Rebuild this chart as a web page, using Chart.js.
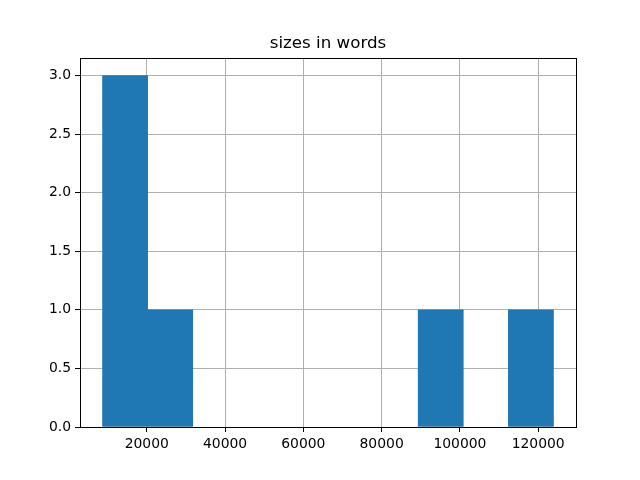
<!DOCTYPE html>
<html>
<head>
<meta charset="utf-8">
<title>sizes in words</title>
<script src="https://cdn.jsdelivr.net/npm/chart.js@4/dist/chart.umd.min.js"></script>
<style>
    body { margin: 0; background: #fff; }
    canvas { display: block; }
</style>
</head>
<body>
<canvas id="grafico-hist" width="640" height="480"></canvas>
<script>
// Histogram data (10 bins)
const binEdges = [8700, 20220, 31740, 43260, 54780, 66300, 77820, 89340, 100860, 112380, 123900];
const counts = [3, 1, 0, 0, 0, 0, 0, 1, 0, 1];
const xTicks = [20000, 40000, 60000, 80000, 100000, 120000];
const yTicks = [0, 0.5, 1.0, 1.5, 2.0, 2.5, 3.0];

// Axis limits (matplotlib style 5% margin)
const span = binEdges[binEdges.length - 1] - binEdges[0];
const xMin = binEdges[0] - span * 0.05;
const xMax = binEdges[binEdges.length - 1] + span * 0.05;
const yMax = Math.max(...counts) * 1.05;

// Empty bins get null so nothing is drawn on the baseline
const pontos = counts.map((c, i) => ({ x: (binEdges[i] + binEdges[i + 1]) / 2, y: c > 0 ? c : null }));

const fonteTicks = { family: 'DejaVu Sans', size: 13.9 };

// Frame around the plot area (all four spines)
const molduraPlugin = {
    id: 'moldura',
    afterDraw(chart) {
        const { ctx, chartArea: a } = chart;
        ctx.save();
        ctx.strokeStyle = '#000';
        ctx.lineWidth = 1;
        ctx.strokeRect(Math.round(a.left) + 0.5, Math.round(a.top) + 0.5,
            Math.round(a.right - a.left), Math.round(a.bottom - a.top));
        ctx.restore();
    }
};

new Chart(document.getElementById('grafico-hist').getContext('2d'), {
    type: 'bar',
    data: {
        datasets: [{
            data: pontos,
            backgroundColor: '#1f77b4',
            borderWidth: 0,
            barPercentage: 1,
            categoryPercentage: 1
        }]
    },
    options: {
        responsive: false,
        animation: false,
        devicePixelRatio: 1,
        layout: { padding: { left: 0, right: 64, top: 0, bottom: 0 } },
        plugins: {
            legend: { display: false },
            tooltip: { enabled: false },
            title: {
                display: true,
                text: 'sizes in words',
                fullSize: false,
                color: '#000',
                font: { family: 'DejaVu Sans', size: 16.7, weight: 'normal' },
                padding: { top: 34, bottom: 4 }
            }
        },
        scales: {
            x: {
                type: 'linear',
                min: xMin,
                max: xMax,
                offset: false,
                z: 1,
                afterBuildTicks: scale => { scale.ticks = xTicks.map(v => ({ value: v })); },
                afterFit: scale => { scale.height = 53; },
                grid: { offset: false, color: '#b0b0b0', lineWidth: 1, tickColor: '#000', tickLength: 5 },
                border: { display: false },
                ticks: {
                    color: '#000',
                    font: fonteTicks,
                    padding: 4,
                    maxRotation: 0,
                    callback: v => String(v)
                }
            },
            y: {
                min: 0,
                max: yMax,
                z: 1,
                afterBuildTicks: scale => { scale.ticks = yTicks.map(v => ({ value: v })); },
                afterFit: scale => { scale.width = 80; },
                grid: { color: '#b0b0b0', lineWidth: 1, tickColor: '#000', tickLength: 5 },
                border: { display: false },
                ticks: {
                    color: '#000',
                    font: fonteTicks,
                    padding: 4,
                    callback: v => v.toFixed(1)
                }
            }
        }
    },
    plugins: [molduraPlugin]
});
</script>
</body>
</html>
